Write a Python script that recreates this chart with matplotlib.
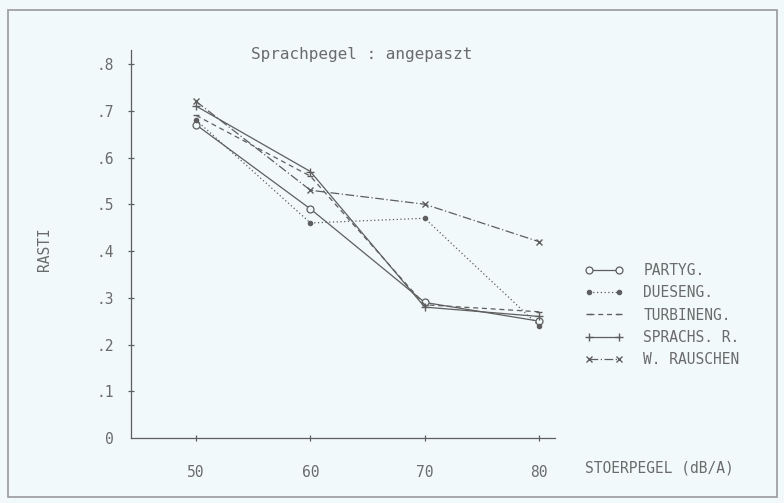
import matplotlib
matplotlib.use("Agg")
import matplotlib.pyplot as plt
from matplotlib.patches import Rectangle

# Stoerpegel (dB/A)
pegel = [50, 60, 70, 80]

# RASTI values per noise source
partyg = [0.67, 0.49, 0.29, 0.25]
dueseng = [0.68, 0.46, 0.47, 0.24]
turbineng = [0.69, 0.56, 0.285, 0.27]
sprachs_r = [0.71, 0.57, 0.28, 0.26]
w_rauschen = [0.72, 0.53, 0.50, 0.42]

ytick_vals = [0, .1, .2, .3, .4, .5, .6, .7, .8]
ytick_labels = ["0", ".1", ".2", ".3", ".4", ".5", ".6", ".7", ".8"]

bg = "#f1f9fb"
ink = "#5e5e5e"
txt = "#6b6b6b"
plt.rcParams["font.family"] = ["DejaVu Sans Mono"]

fig = plt.figure(figsize=(7.84, 5.03), dpi=100, facecolor=bg)
ax = fig.add_axes([131/784, 65/503, 424/784, 388/503])
ax.set_facecolor(bg)

lw = 0.9
ax.plot(pegel, partyg, color=ink, lw=lw, ls="-", marker="o", ms=5,
        mfc=bg, mec=ink, mew=0.9, label="PARTYG.")
ax.plot(pegel, dueseng, color=ink, lw=lw, ls=(0, (1, 2)), marker="o", ms=3,
        mfc=ink, mec=ink, label="DUESENG.")
ax.plot(pegel, turbineng, color=ink, lw=lw, ls=(0, (4, 3)), marker="_", ms=5,
        mec=ink, label="TURBINENG.")
ax.plot(pegel, sprachs_r, color=ink, lw=lw, ls="-", marker="+", ms=6,
        mec=ink, label="SPRACHS. R.")
ax.plot(pegel, w_rauschen, color=ink, lw=lw, ls=(0, (7, 2, 1, 2)), marker="x", ms=5,
        mec=ink, label="W. RAUSCHEN")

ax.set_xlim(44.3, 81.4)
ax.set_ylim(0, 0.83)
ax.spines["top"].set_visible(False)
ax.spines["right"].set_visible(False)
for s in ("left", "bottom"):
    ax.spines[s].set_color(ink)
    ax.spines[s].set_linewidth(0.9)

ax.set_xticks(pegel)
ax.set_xticklabels([str(p) for p in pegel])
ax.set_yticks(ytick_vals)
ax.set_yticklabels(ytick_labels)
ax.tick_params(axis="both", direction="inout", length=5, width=0.9, color=ink,
               labelcolor=txt, labelsize=10.5)
ax.tick_params(axis="x", pad=17)
ax.tick_params(axis="y", pad=10)
# no tick mark at the origin
ax.yaxis.get_major_ticks()[0].tick1line.set_visible(False)

fig.text(45/784, 1 - 249/503, "RASTI", rotation=90, ha="center", va="center",
         color=txt, fontsize=10.5)
fig.text(585/784, 1 - 468/503, "STOERPEGEL (dB/A)", ha="left", va="center",
         color=txt, fontsize=10.5)
fig.text(362/784, 1 - 55/503, "Sprachpegel : angepaszt", ha="center", va="center",
         color=txt, fontsize=11.5)

ax.legend(loc="upper left", bbox_to_anchor=(585/784, 1 - 263/503),
          bbox_transform=fig.transFigure, frameon=False, numpoints=2,
          handlelength=2.6, handletextpad=1.4, labelspacing=0.5,
          borderpad=0, borderaxespad=0, fontsize=10.5, labelcolor=txt)

fig.patches.append(Rectangle((8/784, 1 - 497/503), 769/784, 487/503,
                             transform=fig.transFigure, fill=False,
                             edgecolor="#9a9a9a", lw=1.2))

fig.savefig("out.png", dpi=100, facecolor=bg)
